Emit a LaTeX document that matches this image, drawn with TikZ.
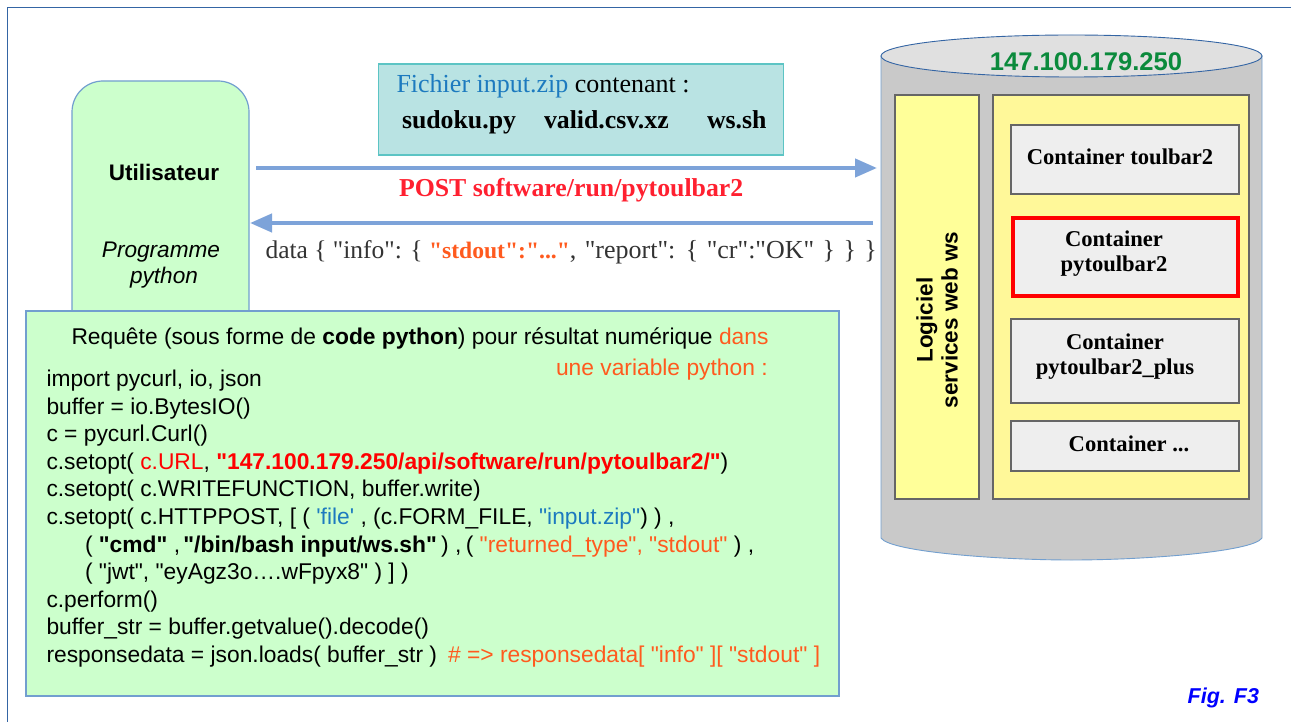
\documentclass[tikz,border=0pt]{standalone}
\usepackage{fontspec}
\setmainfont{Liberation Sans}[Ligatures=TeXOff]
\newfontfamily\serf{Liberation Serif}
\usetikzlibrary{arrows.meta}
\definecolor{framec}{HTML}{3465A4}
\definecolor{greenf}{HTML}{CCFFCC}
\definecolor{greenl}{HTML}{729FCF}
\definecolor{tealf}{HTML}{B9E3E3}
\definecolor{teall}{HTML}{5CC4C4}
\definecolor{arrowc}{HTML}{7DA3D9}
\definecolor{orangec}{HTML}{FF5A1E}
\definecolor{bluet}{HTML}{1C7ABF}
\definecolor{redt}{HTML}{FF2030}
\definecolor{greent}{HTML}{0B8A3C}
\definecolor{cylf}{HTML}{C9C9C9}
\definecolor{cyltop}{HTML}{E0E0E0}
\definecolor{paley}{HTML}{FFFF99}
\definecolor{paley2}{HTML}{FFF899}
\definecolor{contf}{HTML}{EEEEEE}
\definecolor{greyt}{HTML}{333333}
\tikzset{
 x=1pt,y=-1pt,
 every node/.style={outer sep=0pt},
 code/.style={inner sep=0pt,anchor=base west,font=\fontsize{22.8}{27}\selectfont,text=black},
 serifb/.style={inner sep=0pt,align=center,font=\serf\bfseries\fontsize{22.6}{25}\selectfont},
 seriff/.style={inner sep=0pt,anchor=base west,font=\serf\fontsize{25.5}{28}\selectfont},
 serifbig/.style={seriff,font=\serf\bfseries\fontsize{25.8}{28}\selectfont},
 zone/.style={draw=black!60,line width=1.1pt},
 contbox/.style={draw=black!60,line width=1.4pt,fill=contf},
 flow/.style={draw=arrowc,line width=4.2pt,-{Triangle[length=22pt,width=18pt]}},
}
\begin{document}
\begin{tikzpicture}
\useasboundingbox (0,0) rectangle (1291,722);
\fill[white] (0,0) rectangle (1291,722);
\draw[framec,line width=1.2pt] (7.5,722) -- (7.5,7.5) -- (1291,7.5);
% user box
\path[fill=greenf,draw=greenl,line width=1.2pt,rounded corners=31pt] (72,330) -- (72,81) -- (249,81) -- (249,330);
\node[inner sep=0pt,font=\bfseries\fontsize{22.5}{26}\selectfont] (user) at (164,172) {Utilisateur};
\node[inner sep=0pt,align=center,font=\itshape\fontsize{22.6}{26}\selectfont] (prog) at (161,265) {Programme\\\hspace{6pt}python};
\coordinate (ua) at (256,168);
\coordinate (ub) at (250,223);
% teal box
\node[draw=teall,line width=1.1pt,fill=tealf,minimum width=405pt,minimum height=91pt,inner sep=0pt,anchor=north west] (zip) at (378.5,64) {};
\node[seriff,font=\serf\fontsize{26}{28}\selectfont] (zipt) at (396.5,93) {\textcolor{bluet}{Fichier input.zip} contenant :};
\node[serifbig] (f1) at (402,129) {sudoku.py};
\node[serifbig] (f2) at (544,129) {valid.csv.xz};
\node[serifbig] (f3) at (707,129) {ws.sh};
% cylinder
\path[fill=cylf,draw=greenl,line width=.9pt] (881,56) -- (881,538) .. controls (890,552) and (1000,560) .. (1071.5,560) .. controls (1143,560) and (1253,552) .. (1262,538) -- (1262,56) -- cycle;
\path[fill=cyltop,draw=framec,line width=.9pt] (1071.5,56) ellipse [x radius=190.5,y radius=21];
\node[inner sep=0pt,font=\bfseries\fontsize{25.6}{28}\selectfont,text=greent] (ip) at (1086,62) {147.100.179.250};
\node[zone,fill=paley,minimum width=84pt,minimum height=404pt,inner sep=0pt,anchor=north west] (logi) at (895,95) {};
\node[inner sep=0pt,align=center,rotate=90,font=\bfseries\fontsize{22.5}{25}\selectfont] (logit) at (937,320) {Logiciel\\services web ws};
\node[zone,fill=paley2,minimum width=256pt,minimum height=404pt,inner sep=0pt,anchor=north west] (cont) at (993,95) {};
\node[contbox,minimum width=228pt,minimum height=69pt,inner sep=0pt,anchor=north west] (c1) at (1011,125) {};
\node[serifb] (c1t) at (1120,156.5) {Container toulbar2};
\node[contbox,draw=red,line width=4.4pt,minimum width=224.6pt,minimum height=77.6pt,inner sep=0pt,anchor=north west] (c2) at (1013.2,218.2) {};
\node[serifb] (c2t) at (1114,253.5) {Container\\pytoulbar2};
\node[contbox,minimum width=228pt,minimum height=84pt,inner sep=0pt,anchor=north west] (c3) at (1011,319) {};
\node[serifb] (c3t) at (1115,356.5) {Container\\pytoulbar2\_plus};
\node[contbox,minimum width=228pt,minimum height=50pt,inner sep=0pt,anchor=north west] (c4) at (1011,421) {};
\node[serifb] (c4t) at (1129,443.5) {Container ...};
% connectors
\coordinate (ca) at (877,168);
\coordinate (cb) at (873,223);
\draw[flow] (ua) -- (ca);
\draw[flow] (cb) -- (ub);
\node[seriff,font=\serf\bfseries\fontsize{25.8}{28}\selectfont,text=redt] (post) at (399,197) {POST software/run/pytoulbar2};
\node[seriff,text=greyt] (data) at (265.5,258.5) {data \{ "info": \{ \textcolor{orangec}{\fontsize{23.6}{28}\selectfont\textbf{"stdout":"..."}}{\fontsize{26}{28}\selectfont\spaceskip=8.4pt , "report": \{ "cr":"OK" \} \} \}}};
% code box
\node[draw=greenl,line width=1.2pt,fill=greenf,minimum width=813pt,minimum height=385pt,inner sep=0pt,anchor=north west] (req) at (26,311) {};
\node[code] (l0) at (71.5,344) {Requête (sous forme de \textbf{code python}) pour résultat numérique \textcolor{orangec}{dans}};
\node[code,text=orangec] (l0b) at (556,375) {une variable python :};
\node[code] (l1) at (46.5,386) {import pycurl, io, json};
\node[code] (l2) at (46.5,414) {buffer = io.BytesIO()};
\node[code] (l3) at (46.5,441.5) {c = pycurl.Curl()};
\node[code] (l4) at (46.5,469) {c.setopt( \textcolor{red}{c.URL}, \textcolor{red}{\textbf{"147.100.179.250/api/software/run/pytoulbar2/"}})};
\node[code] (l5) at (46.5,496.5) {c.setopt( c.WRITEFUNCTION, buffer.write)};
\node[code] (l6) at (46.5,524) {c.setopt( c.HTTPPOST, [ ( \textcolor{bluet}{'file'} , (c.FORM\_FILE, \textcolor{bluet}{"input.zip"}) ) ,};
\node[code] (l7) at (85,552) {( \textbf{"cmd"} ,\hspace{-3pt} \textbf{"/bin/bash input/ws.sh"}\hspace{-2pt} ) ,\hspace{-2pt} ( \textcolor{orangec}{"returned\_type", "stdout"} ) ,};
\node[code] (l8) at (85,579.5) {( "jwt", "eyAgz3o….wFpyx8" ) ] )};
\node[code] (l9) at (46.5,607) {c.perform()};
\node[code] (l10) at (46.5,634.5) {buffer\_str = buffer.getvalue().decode()};
\node[code] (l11) at (46.5,662) {responsedata = json.loads( buffer\_str )\hspace{11pt}\textcolor{orangec}{\# => responsedata[ "info" ][ "stdout" ]}};
\node[inner sep=0pt,anchor=base east,font=\bfseries\itshape\fontsize{21.5}{24}\selectfont,text=blue] (fig) at (1259,703) {Fig. F3};
\end{tikzpicture}
\end{document}
